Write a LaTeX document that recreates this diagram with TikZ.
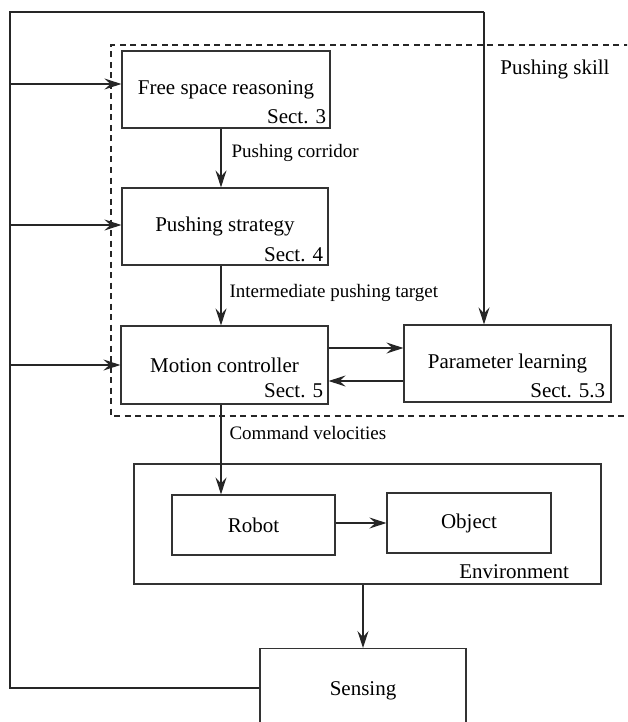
\documentclass[tikz,border=0pt]{standalone}
\usepackage{fontspec}
\setmainfont{Liberation Serif}
\newfontfamily\diafont{Liberation Serif}
\usetikzlibrary{arrows.meta}
\begin{document}
\begin{tikzpicture}[x=1pt,y=-1pt,
  line width=1.1pt,
  box/.style={draw=black!80, line width=1.15pt, inner sep=0pt, font=\diafont\fontsize{21}{24}\selectfont},
  txt/.style={inner sep=0pt, font=\diafont\fontsize{21}{24}\selectfont},
  sect/.style={inner sep=0pt, anchor=base east, font=\diafont\fontsize{21}{24}\selectfont},
  lbl/.style={inner sep=0pt, anchor=west, font=\diafont\fontsize{19}{22}\selectfont},
  arr/.style={draw=black!85, line width=1.2pt, -{Stealth[length=17pt,width=11pt,inset=6pt]}},
  wire/.style={draw=black!85, line width=1.2pt}
]
\useasboundingbox (0,0) rectangle (627,722);
\clip (0,0) rectangle (627,722);

% pushing skill group
\draw[black!85, line width=1.15pt, dash pattern=on 6pt off 4.5pt]
  (640,45) -- (111,45) -- (111,416) -- (640,416);
\node[txt] (skill) at (555,69) {Pushing skill};

% boxes of the pushing skill
\node[box, minimum width=208pt, minimum height=77pt] (fs) at (226,89.5) {Free space reasoning};
\node[sect] (fss) at ([xshift=-4pt,yshift=5pt]fs.south east) {Sect. 3};

\node[box, minimum width=206pt, minimum height=77pt] (ps) at (225,226.5) {Pushing strategy};
\node[sect] (pss) at ([xshift=-5pt,yshift=4pt]ps.south east) {Sect. 4};

\node[box, minimum width=207pt, minimum height=78pt] (mc) at (224.5,365) {Motion controller};
\node[sect] (mcs) at ([xshift=-5pt,yshift=7pt]mc.south east) {Sect. 5};

\node[box, minimum width=207pt, minimum height=77pt] (pl) at (507.5,363.5) {Parameter learning};
\node[sect] (pls) at ([xshift=-6pt,yshift=5.5pt]pl.south east) {Sect. 5.3};

% environment
\node[box, minimum width=467pt, minimum height=120pt] (env) at (367.5,524) {};
\node[sect] (envs) at ([xshift=-32pt,yshift=6pt]env.south east) {Environment};
\node[box, minimum width=163pt, minimum height=60pt] (rb) at (253.5,525) {Robot};
\node[box, minimum width=164pt, minimum height=60pt] (ob) at (469,523) {Object};

% sensing
\node[box, minimum width=206pt, minimum height=84pt, anchor=north] (sen) at (363,648) {Sensing};

% data flow
\draw[arr] ([xshift=-5pt]fs.south) -- ([xshift=-4pt]ps.north);
\node[lbl] (l1) at (231,153) {Pushing corridor};
\draw[arr] ([xshift=-4pt]ps.south) -- ([xshift=-3.5pt]mc.north);
\node[lbl] (l2) at (229,293) {Intermediate pushing target};
\draw[arr] (mc.east |- 0,348) -- (pl.west |- 0,348);
\draw[arr] (pl.west |- 0,381) -- (mc.east |- 0,381);
\draw[arr] (mc.south -| 221,0) -- (rb.north -| 221,0);
\node[lbl] (l3) at (229,433) {Command velocities};
\draw[arr] (rb.east |- 0,523) -- (ob.west |- 0,523);
\draw[arr] (env.south -| sen.north) -- (sen.north);

% feedback from sensing
\coordinate (fbl) at (10,688);
\coordinate (fbt) at (10,12);
\coordinate (fbr) at (484,12);
\draw[wire] (sen.west |- fbl) -- (fbl) -- (fbt) -- (fbr);
\draw[arr] (fbr) -- (pl.north -| fbr);
\draw[arr] (10,84) -- (fs.west |- 0,84);
\draw[arr] (10,225) -- (ps.west |- 0,225);
\draw[arr] (10,365) -- (mc.west |- 0,365);
\end{tikzpicture}
\end{document}
